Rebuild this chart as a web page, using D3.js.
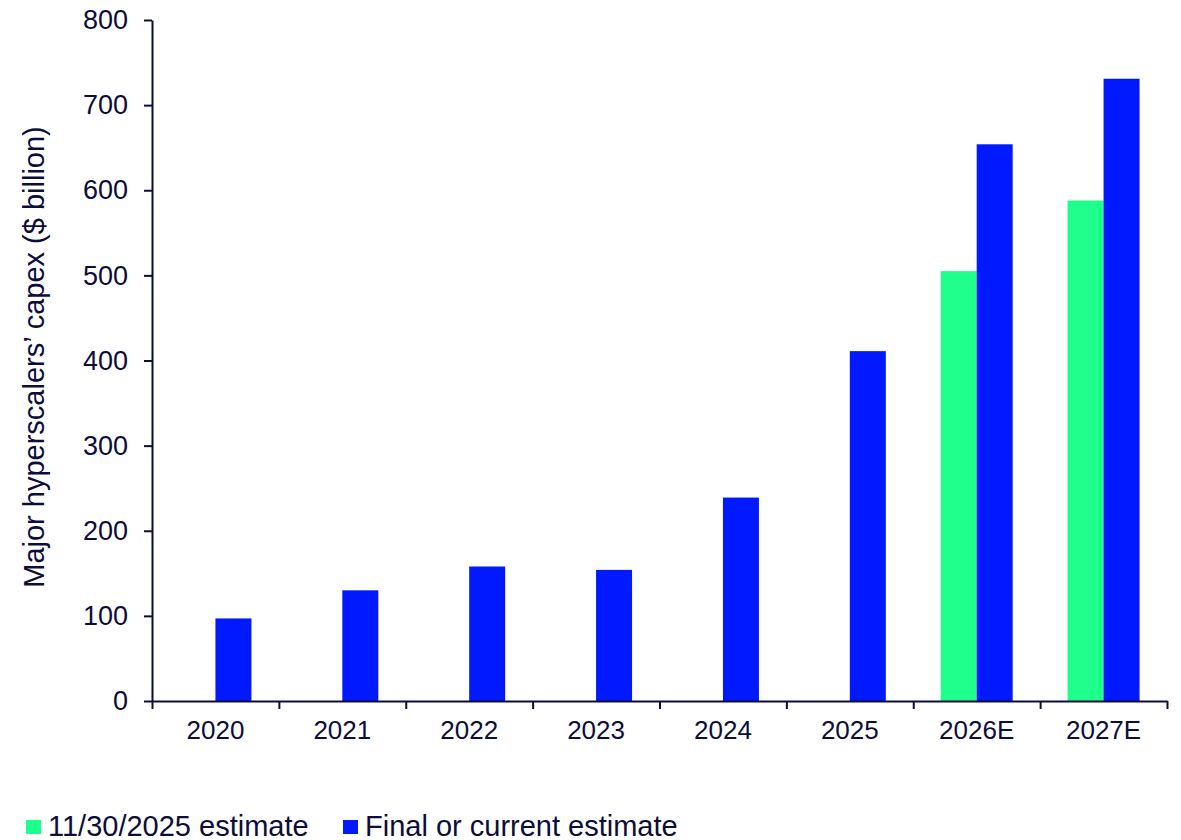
<!DOCTYPE html>
<html>
<head>
<meta charset="utf-8">
<script src="https://cdn.jsdelivr.net/npm/d3@7"></script>
<style>
  html, body { margin: 0; padding: 0; background: #ffffff; }
  svg { display: block; font-family: "Liberation Sans", Arial, sans-serif; }
</style>
</head>
<body>
<svg id="chart" width="1181" height="840"></svg>
<script>
// Hyperscaler capex by year, $ billion
const categories = ["2020", "2021", "2022", "2023", "2024", "2025", "2026E", "2027E"];
const seriesNames = ["11/30/2025 estimate", "Final or current estimate"];
const priorEstimate = [null, null, null, null, null, null, 505, 588];
const currentEstimate = [97, 130, 158, 154, 239, 411, 654, 731];
const yTicks = [0, 100, 200, 300, 400, 500, 600, 700, 800];

const colors = ["#1fff8c", "#0019ff"];
const ink = "#0d0d3b";

const svg = d3.select("#chart");
const plot = { left: 152, right: 1167, top: 20, bottom: 701 };

const x = d3.scaleBand().domain(categories).range([plot.left, plot.right]).paddingInner(0).paddingOuter(0);
const xInner = d3.scaleBand().domain(seriesNames).range([0, x.bandwidth()]).paddingInner(0).paddingOuter(0.762);
const y = d3.scaleLinear().domain([0, 800]).range([plot.bottom, plot.top]);

const rows = categories.map((c, i) => ({ cat: c, values: [priorEstimate[i], currentEstimate[i]] }));

// Bars
const groups = svg.append("g").selectAll("g").data(rows).join("g")
  .attr("transform", d => `translate(${x(d.cat)},0)`);
groups.selectAll("rect")
  .data(d => d.values.map((v, k) => ({ name: seriesNames[k], v, k })).filter(e => e.v != null))
  .join("rect")
  .attr("x", e => xInner(e.name))
  .attr("width", xInner.bandwidth())
  .attr("y", e => y(e.v))
  .attr("height", e => y(0) - y(e.v))
  .attr("fill", e => colors[e.k]);

// Y axis
const yAxis = svg.append("g")
  .attr("transform", `translate(${plot.left},0)`)
  .call(d3.axisLeft(y).tickValues(yTicks).tickSize(8).tickSizeOuter(0).tickPadding(16).tickFormat(d3.format("d")));
yAxis.select(".domain").attr("stroke", ink).attr("stroke-width", 2);
yAxis.selectAll(".tick line").attr("stroke", ink).attr("stroke-width", 2);
yAxis.selectAll(".tick text").attr("fill", ink).style("font-size", "27px")
  .style("font-family", "'Liberation Sans', Arial, sans-serif");

// X axis: tick marks at category boundaries
const edges = d3.scaleLinear().domain([0, categories.length]).range([plot.left, plot.right]);
const xEdges = svg.append("g")
  .attr("transform", `translate(0,${plot.bottom})`)
  .call(d3.axisBottom(edges).tickValues(d3.range(categories.length + 1)).tickSize(8).tickSizeOuter(0).tickFormat(""));
xEdges.select(".domain").attr("stroke", ink).attr("stroke-width", 2);
xEdges.selectAll(".tick line").attr("stroke", ink).attr("stroke-width", 2);

// X axis: category labels
const xLabels = svg.append("g")
  .attr("transform", `translate(0,${plot.bottom})`)
  .call(d3.axisBottom(x).tickSize(0).tickPadding(20));
xLabels.select(".domain").remove();
xLabels.selectAll(".tick text").attr("fill", ink).style("font-size", "26px")
  .style("font-family", "'Liberation Sans', Arial, sans-serif");

// Y axis title
svg.append("text")
  .attr("transform", "translate(44,357) rotate(-90)")
  .attr("text-anchor", "middle")
  .attr("fill", ink)
  .style("font-size", "29px")
  .text("Major hyperscalers’ capex ($ billion)");

// Legend
const legendX = [26, 343];
const legend = svg.append("g").selectAll("g").data(seriesNames).join("g")
  .attr("transform", (d, i) => `translate(${legendX[i]},820)`);
legend.append("rect").attr("width", 15).attr("height", 14).attr("fill", (d, i) => colors[i]);
legend.append("text").attr("x", 22).attr("y", 15.5)
  .attr("fill", ink).style("font-size", "29px").text(d => d);
</script>
</body>
</html>
